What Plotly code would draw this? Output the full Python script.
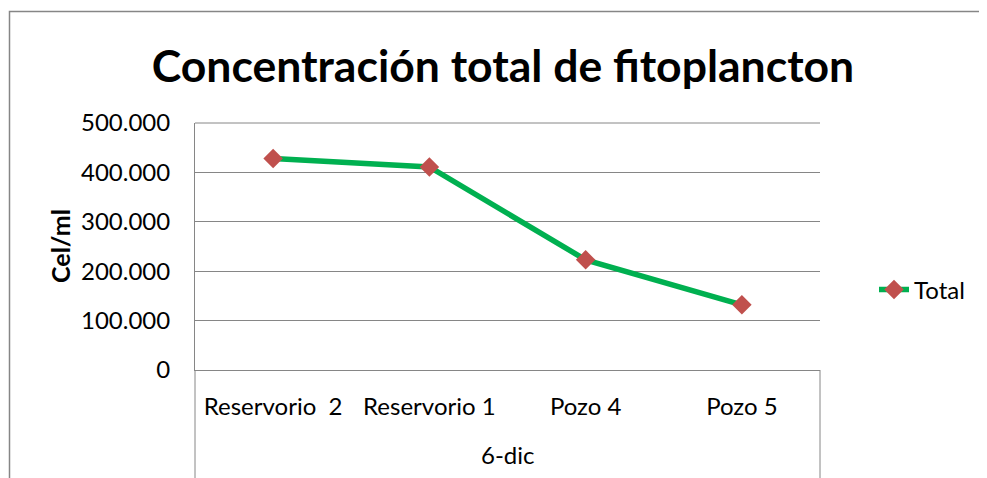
import plotly.graph_objects as go

categories = ["Reservorio  2", "Reservorio 1", "Pozo 4", "Pozo 5"]
group_label = "6-dic"
values = [428000, 411000, 223000, 132000]
series_name = "Total"
y_ticks = [0, 100000, 200000, 300000, 400000, 500000]

FONT = "Lato"
OFF = 8  # default page body margin
W, H = 987 - OFF, 478 - OFF
# plot area in reference pixel coordinates
L, R, T, B = 195, 820, 123, 370
pw, ph = R - L, B - T
GRID = "#868686"

fig = go.Figure()
fig.add_trace(go.Scatter(
    x=categories, y=values, name=series_name, mode="lines+markers",
    line=dict(color="#00B050", width=5.5),
    marker=dict(symbol="diamond", size=15, color="#C0504D",
                line=dict(width=0)),
))

fig.update_layout(
    width=W, height=H,
    margin=dict(l=L - OFF, r=W - (R - OFF), t=T - OFF, b=H - (B - OFF), pad=0),
    paper_bgcolor="white", plot_bgcolor="white",
    separators=",.",
    font=dict(family=FONT, size=24, color="black"),
    title=dict(text="<b>Concentración total de fitoplancton</b>",
               font=dict(family=FONT, size=44.5, color="black"),
               x=(503 - OFF) / W, xref="container", xanchor="center",
               y=1 - (66 - OFF) / H, yref="container", yanchor="middle"),
    showlegend=True,
    legend=dict(x=(874 - L) / pw, y=(B - 290) / ph, xanchor="left",
                yanchor="middle", font=dict(family=FONT, size=24),
                bgcolor="rgba(0,0,0,0)", borderwidth=0),
    xaxis=dict(type="category", showgrid=False, zeroline=False,
               showline=True, linecolor=GRID, linewidth=1,
               ticks="", ticklabelstandoff=15,
               tickfont=dict(family=FONT, size=24),
               range=[-0.5, len(categories) - 0.5]),
    yaxis=dict(range=[0, 500000], tickvals=y_ticks, tickformat=",d",
               showgrid=True, gridcolor=GRID, gridwidth=1,
               zeroline=False, showline=True, linecolor=GRID,
               linewidth=1, ticks="", ticklabelstandoff=19,
               tickfont=dict(family=FONT, size=24)),
)

# y axis title
fig.add_annotation(text="<b>Cel/ml</b>", textangle=-90, x=(60 - L) / pw,
                   y=(B - 246) / ph, xref="paper", yref="paper",
                   showarrow=False, xanchor="center", yanchor="middle",
                   font=dict(family=FONT, size=25))
# category group label
fig.add_annotation(text=group_label, x=0.5, y=-(454 - B) / ph, xref="paper",
                   yref="paper", showarrow=False, xanchor="center",
                   yanchor="middle", font=dict(family=FONT, size=24))
# top gridline (500.000)
fig.add_shape(type="line", xref="paper", yref="paper", x0=0, x1=1, y0=1, y1=1,
              line=dict(color=GRID, width=1))
# outer dividers of the category axis
for xp in (0, 1):
    fig.add_shape(type="line", xref="paper", yref="paper", x0=xp, x1=xp,
                  y0=0, y1=-(480 - B) / ph, line=dict(color=GRID, width=1))
# chart area border
fig.add_shape(type="rect", xref="paper", yref="paper",
              x0=(9.5 - L) / pw, x1=(1000 - L) / pw,
              y0=-(500 - B) / ph, y1=(B - 11.5) / ph,
              line=dict(color=GRID, width=1.5), fillcolor="rgba(0,0,0,0)",
              layer="below")

fig.write_html("out.html")
